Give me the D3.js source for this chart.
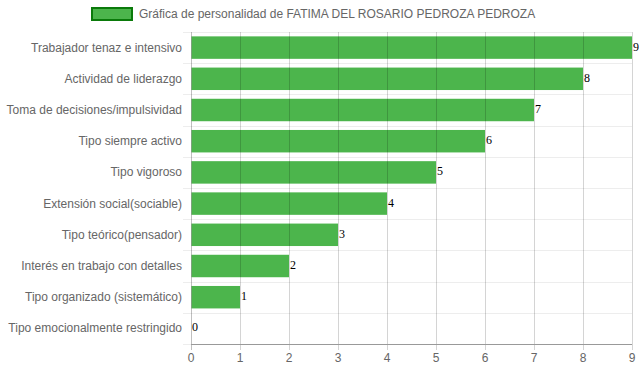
<!DOCTYPE html>
<html>
<head>
<meta charset="utf-8">
<script src="https://cdn.jsdelivr.net/npm/d3@7"></script>
<style>
  body { margin: 0; background: #fff; }
  text { font-family: Arial, "Liberation Sans", sans-serif; }
</style>
</head>
<body>
<svg width="639" height="372"></svg>
<script>
const categories = [
  "Trabajador tenaz e intensivo",
  "Actividad de liderazgo",
  "Toma de decisiones/impulsividad",
  "Tipo siempre activo",
  "Tipo vigoroso",
  "Extensión social(sociable)",
  "Tipo teórico(pensador)",
  "Interés en trabajo con detalles",
  "Tipo organizado (sistemático)",
  "Tipo emocionalmente restringido"
];
const values = [9, 8, 7, 6, 5, 4, 3, 2, 1, 0];
const xTicks = [0, 1, 2, 3, 4, 5, 6, 7, 8, 9];
const legendLabel = "Gráfica de personalidad de FATIMA DEL ROSARIO PEDROZA PEDROZA";

const svg = d3.select("svg");
const plotLeft = 191, plotRight = 632, plotTop = 32, plotBottom = 344;

const x = d3.scaleLinear().domain([0, 9]).range([plotLeft, plotRight]);
const y = d3.scaleBand().domain(categories).range([plotTop, plotBottom]);
const barH = y.bandwidth() * 0.72;

// bars
svg.selectAll(".bar").data(values).enter().append("rect")
  .attr("x", x(0) + 0.5)
  .attr("y", (d, i) => y(categories[i]) + (y.bandwidth() - barH) / 2)
  .attr("width", d => Math.max(0, x(d) - x(0) - 0.5))
  .attr("height", barH)
  .attr("fill", "#4cb54c");

// horizontal grid lines (band boundaries)
const hLines = categories.map(c => y(c)).concat([plotBottom]);
svg.selectAll(".hgrid").data(hLines).enter().append("line")
  .attr("x1", plotLeft - 8).attr("x2", plotRight)
  .attr("y1", d => Math.round(d) + 0.5).attr("y2", d => Math.round(d) + 0.5)
  .attr("stroke", "rgba(0,0,0,0.07)");

// vertical grid lines, drawn over the bars
svg.selectAll(".vgrid").data(xTicks).enter().append("line")
  .attr("x1", d => Math.round(x(d)) + 0.5).attr("x2", d => Math.round(x(d)) + 0.5)
  .attr("y1", plotTop).attr("y2", plotBottom + 6)
  .attr("stroke", d => d === 0 ? "rgba(0,0,0,0.25)" : "rgba(0,0,0,0.17)");

// x axis line
svg.append("line")
  .attr("x1", plotLeft).attr("x2", plotRight)
  .attr("y1", plotBottom + 0.5).attr("y2", plotBottom + 0.5)
  .attr("stroke", "#999");

// x tick labels
svg.selectAll(".xt").data(xTicks).enter().append("text")
  .attr("x", d => x(d)).attr("y", 362)
  .attr("text-anchor", "middle")
  .attr("font-size", 12).attr("fill", "#666")
  .text(d => d);

// category labels
svg.selectAll(".yl").data(categories).enter().append("text")
  .attr("x", 182).attr("y", d => y(d) + y.bandwidth() / 2 + 4)
  .attr("text-anchor", "end")
  .attr("font-size", 12).attr("fill", "#666")
  .text(d => d);

// value labels
svg.selectAll(".vl").data(values).enter().append("text")
  .attr("x", d => x(d) + 1).attr("y", (d, i) => y(categories[i]) + y.bandwidth() / 2 + 3)
  .style("font-family", "'Liberation Serif', 'Times New Roman', serif")
  .attr("font-size", 12).attr("fill", "#000")
  .text(d => d);

// legend
svg.append("rect")
  .attr("x", 92).attr("y", 8).attr("width", 40).attr("height", 12)
  .attr("fill", "#4cb54c").attr("stroke", "#0a7a0a").attr("stroke-width", 2);
svg.append("text")
  .attr("x", 139).attr("y", 18)
  .attr("font-size", 12).attr("fill", "#666")
  .text(legendLabel);
</script>
</body>
</html>
